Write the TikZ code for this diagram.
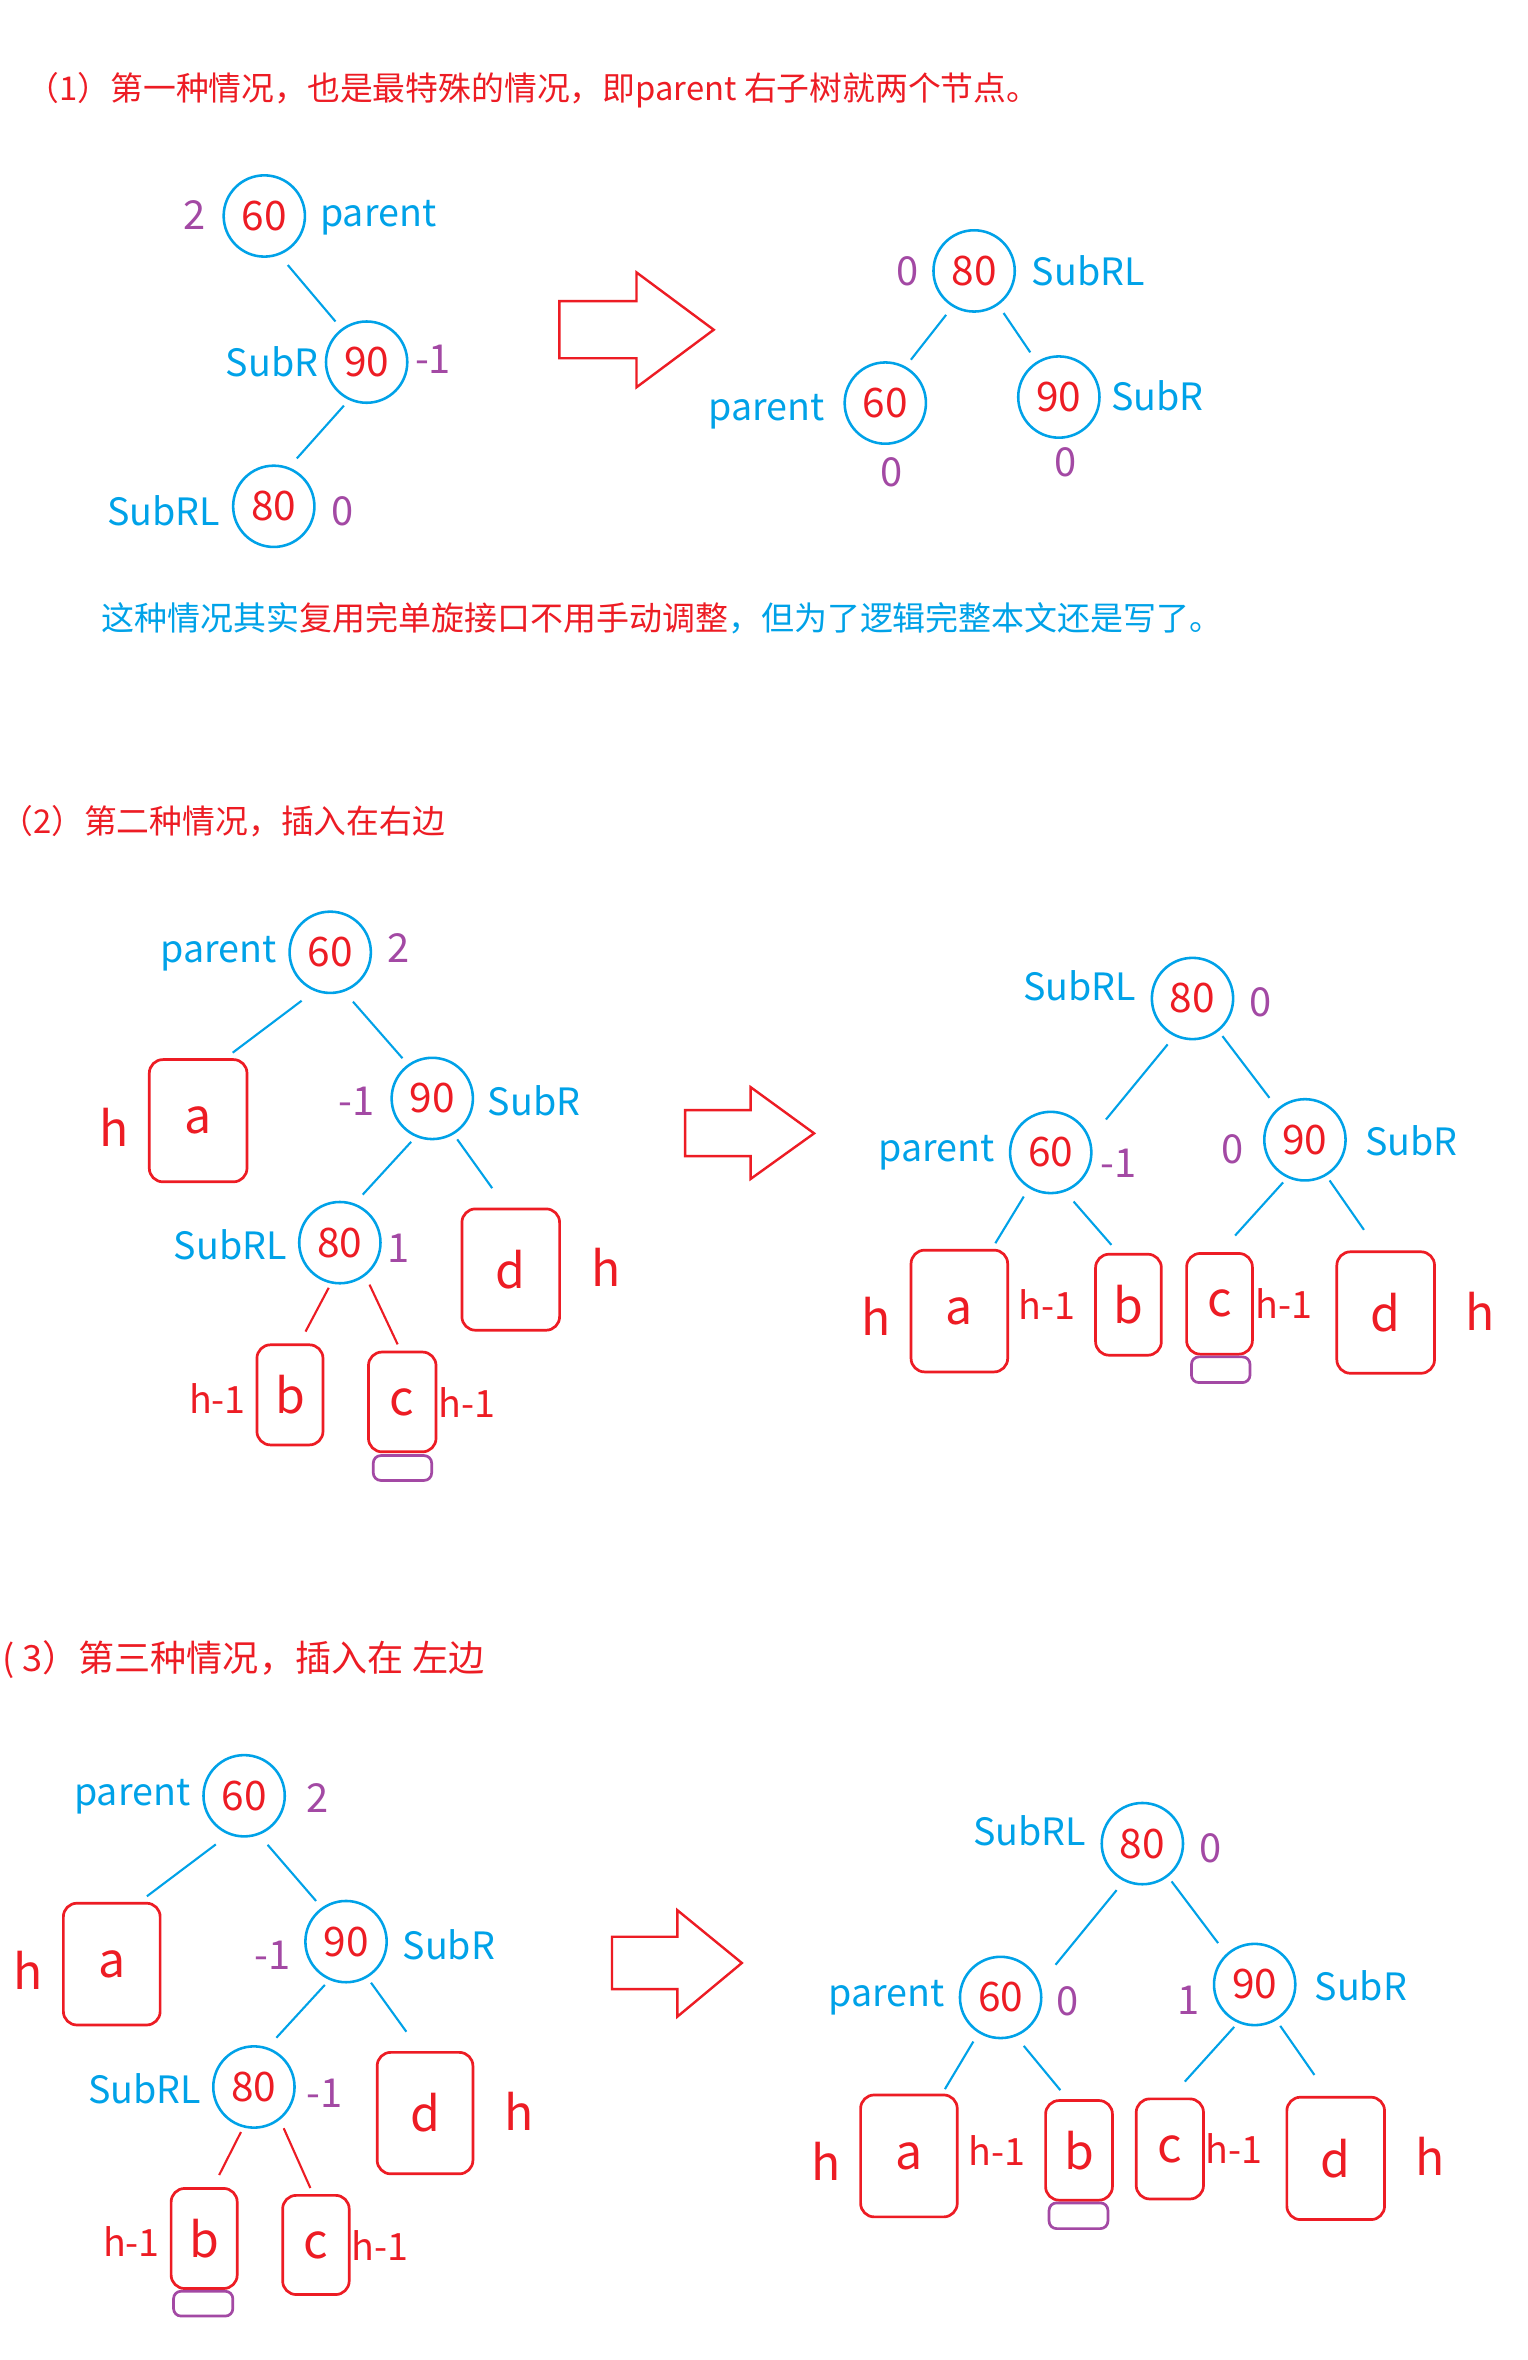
\documentclass[tikz,border=0pt]{standalone}
\usepackage{fontspec}
\setmainfont{Noto Sans CJK SC}
\usetikzlibrary{calc}
\definecolor{cblue}{HTML}{00A2E8}
\definecolor{cred}{HTML}{ED1C24}
\definecolor{cpur}{HTML}{A349A4}
\tikzset{
 cn/.style={circle, draw=cblue, line width=1.7pt, minimum size=54pt, inner sep=0pt, text=cred, font=\fontsize{27}{27}\selectfont},
 lb/.style={anchor=base, inner sep=0pt, text=cblue, font=\fontsize{25}{25}\selectfont},
 pn/.style={anchor=base, inner sep=0pt, text=cpur, font=\fontsize{26.5}{26.5}\selectfont},
 hh/.style={anchor=base, inner sep=0pt, text=cred, font=\fontsize{32}{32}\selectfont},
 hm/.style={anchor=base, inner sep=0pt, text=cred, font=\fontsize{25}{25}\selectfont},
 tb/.style={draw=cred, line width=1.8pt, rounded corners=9pt, inner sep=0pt, text=cred, font=\fontsize{32}{32}\selectfont},
 pb/.style={draw=cpur, line width=1.8pt, rounded corners=5pt, inner sep=0pt},
 bl/.style={draw=cblue, line width=1.4pt},
 rl/.style={draw=cred, line width=1.4pt},
 ttl/.style={anchor=west, inner sep=0pt, text=cred, font=\fontsize{21.8}{21.8}\selectfont},
 arr/.style={draw=cred, line width=1.6pt, line join=miter}
}
\begin{document}
\begin{tikzpicture}[x=1pt,y=-1pt]
\fill[white] (0,0) rectangle (1015,1568);
\useasboundingbox (0,0) rectangle (1015,1568);

% ---------------- Section 1
\node[ttl] (t1) at (17.5,59.8) {（1）第一种情况，也是最特殊的情况，即parent 右子树就两个节点。};
\node[cn] (A60) at (175.6,143.5) {60};
\node[cn] (A90) at (243.6,240.6) {90};
\node[cn] (A80) at (181.9,336.4) {80};
\node[pn] (A60b) at (129.2,152.5) {2};
\node[lb] (A60l) at (251.3,150.5) {parent};
\node[lb] (A90l) at (180.7,250.4) {SubR};
\node[pn] (A90b) at (287.7,247.9) {-1};
\node[lb] (A80l) at (108.7,349.1) {SubRL};
\node[pn] (A80b) at (227.9,349.1) {0};
\draw[bl] ($(A60)+(15.6,32.6)$) -- ($(A90)+(-20.7,-27)$);
\draw[bl] ($(A90)+(-15.1,28.9)$) -- ($(A80)+(15.3,-31.8)$);

\draw[arr] (371.6,200.1) -- (422.9,200.1) -- (422.9,181) -- (474.2,219.1) -- (422.9,257.3) -- (422.9,238) -- (371.6,238) -- cycle;

\node[cn] (B80) at (647.2,180) {80};
\node[cn] (B60) at (588.2,267.8) {60};
\node[cn] (B90) at (703.5,263.8) {90};
\node[pn] (B80b) at (603,189.4) {0};
\node[lb] (B80l) at (723,190) {SubRL};
\node[lb] (B60l) at (509.4,279.7) {parent};
\node[pn] (B60b) at (592.2,323) {0};
\node[lb] (B90l) at (769,273) {SubR};
\node[pn] (B90b) at (707.8,316.6) {0};
\draw[bl] ($(B80)+(-18.6,29.2)$) -- ($(B60)+(17,-28.8)$);
\draw[bl] ($(B80)+(19.6,28)$) -- ($(B90)+(-19,-29.7)$);

\node[anchor=west, inner sep=0pt, font=\fontsize{21.9}{21.9}\selectfont] (s1) at (67.5,411) {\textcolor{cblue}{这种情况其实}\textcolor{cred}{复用完单旋接口不用手动调整}\textcolor{cblue}{，但为了逻辑完整本文还是写了。}};

% ---------------- Section 2
\node[ttl] (t2) at (0,545.3) {（2）第二种情况，插入在右边};
\node[cn] (C60) at (219.4,632.7) {60};
\node[cn] (C90) at (287.2,729.8) {90};
\node[cn] (C80) at (225.8,825.6) {80};
\node[tb, minimum width=64.9, minimum height=81.2] (Ca) at (131.65,744.6) {a};
\node[tb, minimum width=64.9, minimum height=80.6] (Cd) at (339.35,843.5) {d};
\node[tb, minimum width=43.9, minimum height=66.5] (Cb) at (192.65,926.75) {b};
\node[tb, minimum width=44.9, minimum height=66.3] (Cc) at (267.25,931.45) {c};
\node[pb, minimum width=38.8, minimum height=16.5] (Cp) at (267.4,975.35) {};
\node[lb] (C60l) at (145.1,639.6) {parent};
\node[pn] (C60b) at (264.7,639.6) {2};
\node[pn] (C90b) at (237,741.2) {-1};
\node[lb] (C90l) at (354.9,741.2) {SubR};
\node[lb] (C80l) at (153,836.8) {SubRL};
\node[pn] (C80b) at (264.8,838.9) {1};
\node[hh] (Cah) at (76,761.7) {h};
\node[hh] (Cdh) at (402.4,854.8) {h};
\node[hm] (Cbh) at (144.5,939) {h-1};
\node[hm] (Cch) at (310,942) {h-1};
\draw[bl] ($(C60)+(-19,32.2)$) -- ($(Ca)+(22.95,-45.2)$);
\draw[bl] ($(C60)+(15.1,32.8)$) -- ($(C90)+(-19.8,-26.7)$);
\draw[bl] ($(C90)+(-14,28.8)$) -- ($(C80)+(15.2,-31.9)$);
\draw[bl] ($(C90)+(16.6,27.2)$) -- ($(Cd)+(-12.35,-54.1)$);
\draw[rl] ($(C80)+(-7.4,30)$) -- ($(Cb)+(10.35,-42.05)$);
\draw[rl] ($(C80)+(19.7,27.9)$) -- ($(Cc)+(-3.05,-38.25)$);

\draw[arr] (455.2,737.6) -- (498.7,737.6) -- (498.7,722.3) -- (540.9,753) -- (498.7,783.3) -- (498.7,768.1) -- (455.2,768.1) -- cycle;

\node[cn] (D80) at (792.3,663.4) {80};
\node[cn] (D60) at (698.1,765.7) {60};
\node[cn] (D90) at (867,757.3) {90};
\node[tb, minimum width=64.2, minimum height=80.9] (Da) at (637.4,871.05) {a};
\node[tb, minimum width=43.7, minimum height=67.1] (Db) at (749.75,866.85) {b};
\node[tb, minimum width=43.7, minimum height=66.9] (Dc) at (810.25,866.25) {c};
\node[pb, minimum width=38.9, minimum height=17.1] (Dp) at (811.05,910.05) {};
\node[tb, minimum width=64.9, minimum height=80.7] (Dd) at (920.65,872.05) {d};
\node[lb] (D80l) at (717.4,664.7) {SubRL};
\node[pn] (D80b) at (837.3,675.3) {0};
\node[lb] (D60l) at (622.4,771.5) {parent};
\node[pn] (D60b) at (742.9,782.1) {-1};
\node[pn] (D90b) at (818.7,773.2) {0};
\node[lb] (D90l) at (937.7,767.7) {SubR};
\node[hh] (Dah) at (582.1,887.3) {h};
\node[hm] (Dbh) at (695.8,877) {h-1};
\node[hm] (Dch) at (853.2,876.3) {h-1};
\node[hh] (Ddh) at (983.5,884) {h};
\draw[bl] ($(D80)+(-16.5,30.5)$) -- ($(D60)+(36.7,-21.9)$);
\draw[bl] ($(D80)+(19.9,25)$) -- ($(D90)+(-23.6,-27.9)$);
\draw[bl] ($(D60)+(-17.9,29.3)$) -- ($(Da)+(23.9,-45.05)$);
\draw[bl] ($(D60)+(15.2,32.6)$) -- ($(Db)+(-11.35,-39.75)$);
\draw[bl] ($(D90)+(-14.5,28.3)$) -- ($(Dc)+(10.35,-45.35)$);
\draw[bl] ($(D90)+(16.4,27)$) -- ($(Dd)+(-14.45,-54.95)$);

% ---------------- Section 3
\node[ttl, font=\fontsize{24}{24}\selectfont] (t3) at (1.5,1102.7) {(\hspace{5pt}3）第三种情况，插入在\hspace{0.25em}左边};
\node[cn] (E60) at (162.2,1193.1) {60};
\node[cn] (E90) at (229.9,1290) {90};
\node[cn] (E80) at (168.7,1386.6) {80};
\node[tb, minimum width=64.3, minimum height=80.9] (Ea) at (74.25,1304.95) {a};
\node[tb, minimum width=63.6, minimum height=80.7] (Ed) at (282.4,1403.95) {d};
\node[tb, minimum width=43.9, minimum height=66.5] (Eb) at (135.65,1487.25) {b};
\node[pb, minimum width=39.4, minimum height=16.5] (Ep) at (135,1530.55) {};
\node[tb, minimum width=44.2, minimum height=65.9] (Ec) at (209.9,1491.55) {c};
\node[lb] (E60l) at (87.8,1199.8) {parent};
\node[pn] (E60b) at (210.7,1204.4) {2};
\node[hh] (Eah) at (19,1321.5) {h};
\node[pn] (E90b) at (181.2,1308.7) {-1};
\node[lb] (E90l) at (298.2,1302) {SubR};
\node[lb] (E80l) at (96.2,1397.8) {SubRL};
\node[pn] (E80b) at (215.5,1400.3) {-1};
\node[hh] (Edh) at (345.2,1415.5) {h};
\node[hm] (Ebh) at (87.3,1499.5) {h-1};
\node[hm] (Ech) at (252.6,1501.9) {h-1};
\draw[bl] ($(E60)+(-18.8,32.3)$) -- ($(Ea)+(23.35,-45.05)$);
\draw[bl] ($(E60)+(15.6,32.6)$) -- ($(E90)+(-19.9,-27)$);
\draw[bl] ($(E90)+(-14.1,28.8)$) -- ($(E80)+(14.9,-32.7)$);
\draw[bl] ($(E90)+(16.6,27.3)$) -- ($(Ed)+(-12.4,-54.05)$);
\draw[rl] ($(E80)+(-8.6,29.9)$) -- ($(Eb)+(9.95,-42.15)$);
\draw[rl] ($(E80)+(19.8,27.4)$) -- ($(Ec)+(-3.7,-37.85)$);

\draw[arr] (406.6,1286.8) -- (450,1286.8) -- (450,1269.1) -- (492.9,1304.2) -- (450,1339.9) -- (450,1321.6) -- (406.6,1321.6) -- cycle;

\node[cn] (F80) at (759,1224.9) {80};
\node[cn] (F60) at (664.8,1327.1) {60};
\node[cn] (F90) at (833.6,1318.5) {90};
\node[tb, minimum width=64.2, minimum height=81] (Fa) at (603.9,1432.4) {a};
\node[tb, minimum width=44.4, minimum height=66.2] (Fb) at (716.9,1428.7) {b};
\node[pb, minimum width=39.1, minimum height=17.1] (Fp) at (716.55,1472.15) {};
\node[tb, minimum width=44.7, minimum height=66.5] (Fc) at (777.25,1427.75) {c};
\node[tb, minimum width=64.9, minimum height=81.3] (Fd) at (887.45,1434.05) {d};
\node[lb] (F80l) at (684,1226.3) {SubRL};
\node[pn] (F80b) at (804,1237.4) {0};
\node[lb] (F60l) at (589,1333.4) {parent};
\node[pn] (F60b) at (709,1339.3) {0};
\node[pn] (F90b) at (789.8,1338.2) {1};
\node[lb] (F90l) at (904.1,1329.4) {SubR};
\node[hh] (Fah) at (548.6,1449) {h};
\node[hm] (Fbh) at (662.2,1439) {h-1};
\node[hm] (Fch) at (819.9,1437.5) {h-1};
\node[hh] (Fdh) at (950.4,1445.7) {h};
\draw[bl] ($(F80)+(-17.1,30.9)$) -- ($(F60)+(36.5,-21.7)$);
\draw[bl] ($(F80)+(19.4,25.1)$) -- ($(F90)+(-24.3,-27.5)$);
\draw[bl] ($(F60)+(-18.1,29.3)$) -- ($(Fa)+(23.9,-44.4)$);
\draw[bl] ($(F60)+(15.4,32.2)$) -- ($(Fb)+(-12.4,-40)$);
\draw[bl] ($(F90)+(-13.6,28.2)$) -- ($(Fc)+(9.95,-44.75)$);
\draw[bl] ($(F90)+(17,27.5)$) -- ($(Fd)+(-14.15,-55.45)$);
\end{tikzpicture}
\end{document}
